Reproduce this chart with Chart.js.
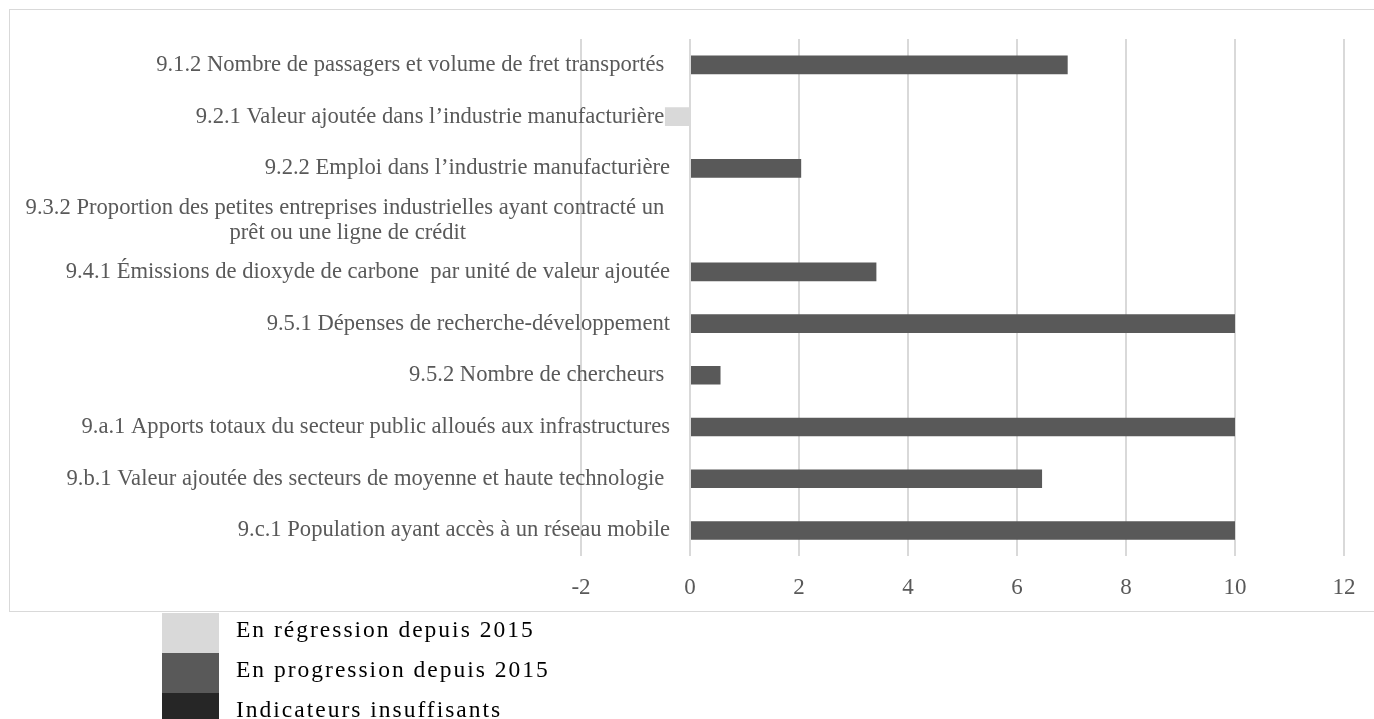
<!DOCTYPE html>
<html lang="fr">
<head>
<meta charset="utf-8">
<title>ODD 9 - évolution des indicateurs</title>
<script src="https://cdn.jsdelivr.net/npm/chart.js@4.4.1/dist/chart.umd.min.js"></script>
<style>
  html, body { margin: 0; padding: 0; background: #fff; overflow: hidden; }
  body { width: 1374px; height: 719px; position: relative; }
  #frame {
    position: absolute; left: 9px; top: 9px;
    width: 1420px; height: 601px;
    border: 1.5px solid #d9d9d9;
  }
  #wrap { position: absolute; left: 0; top: 0; width: 1374px; height: 620px; }
  #legend {
    position: absolute; left: 162px; top: 613px;
    font-family: "Liberation Serif", "Times New Roman", serif;
    font-size: 23.5px; letter-spacing: 2px; color: #000;
  }
  .item { display: flex; height: 40px; }
  .box { width: 57px; height: 40px; margin-right: 17px; }
  .item span { line-height: 32px; }
</style>
</head>
<body>
<div id="frame"></div>
<div id="wrap"><canvas id="myChart"></canvas></div>
<div id="legend"></div>

<script>
// indicateurs ODD 9 (un libellé en tableau = libellé sur deux lignes)
const indicateurs = [
  '9.1.2 Nombre de passagers et volume de fret transportés ',
  '9.2.1 Valeur ajoutée dans l\u2019industrie manufacturière ',
  '9.2.2 Emploi dans l\u2019industrie manufacturière',
  ['9.3.2 Proportion des petites entreprises industrielles ayant contracté un ', 'prêt ou une ligne de crédit'],
  '9.4.1 Émissions de dioxyde de carbone  par unité de valeur ajoutée',
  '9.5.1 Dépenses de recherche-développement',
  '9.5.2 Nombre de chercheurs ',
  '9.a.1 Apports totaux du secteur public alloués aux infrastructures',
  '9.b.1 Valeur ajoutée des secteurs de moyenne et haute technologie ',
  '9.c.1 Population ayant accès à un réseau mobile'
];

const regression  = [null, -0.46, null, null, null, null, null, null, null, null];
const progression = [6.93, null, 2.04, null, 3.42, 10, 0.56, 10, 6.46, 10];
const insuffisant = [null, null, null, 0, null, null, null, null, null, null];

const xMin = -2, xMax = 12, xStep = 2;

const gris = '#595959';
const serif = '"Liberation Serif", "Times New Roman", serif';

// libellés des catégories, dessinés par dessus la zone de tracé comme dans Excel
const categoryLabels = {
  id: 'categoryLabels',
  afterDraw(chart) {
    const ctx = chart.ctx;
    const y = chart.scales.y;
    const right = chart.chartArea.left + 89;
    ctx.save();
    ctx.font = '22.6px ' + serif;
    ctx.fillStyle = gris;
    ctx.textBaseline = 'middle';
    chart.data.labels.forEach((lab, i) => {
      const cy = y.getPixelForValue(i);
      if (Array.isArray(lab)) {
        const widest = Math.max(...lab.map(l => ctx.measureText(l).width));
        const cx = right - widest / 2;
        const lh = 25;
        ctx.textAlign = 'center';
        lab.forEach((l, k) => {
          ctx.fillText(l, cx, cy + (k - (lab.length - 1) / 2) * lh);
        });
      } else {
        ctx.textAlign = 'right';
        ctx.fillText(lab, right, cy);
      }
    });
    ctx.restore();
  }
};

const chart = new Chart(document.getElementById('myChart'), {
  type: 'bar',
  data: {
    labels: indicateurs,
    datasets: [
      { label: 'En régression depuis 2015', data: regression, backgroundColor: '#d9d9d9' },
      { label: 'En progression depuis 2015', data: progression, backgroundColor: '#595959' },
      { label: 'Indicateurs insuffisants', data: insuffisant, backgroundColor: '#262626' }
    ]
  },
  options: {
    indexAxis: 'y',
    responsive: true,
    maintainAspectRatio: false,
    animation: false,
    layout: { padding: { left: 581, right: 30, top: 39, bottom: 0 } },
    datasets: {
      bar: { categoryPercentage: 1, barPercentage: 0.36, borderWidth: 0 }
    },
    plugins: {
      legend: { display: false },
      tooltip: { enabled: false }
    },
    scales: {
      x: {
        stacked: true,
        min: xMin,
        max: xMax,
        grid: { color: '#d9d9d9', lineWidth: 2, drawTicks: false },
        border: { display: false },
        ticks: {
          stepSize: xStep,
          padding: 18,
          color: gris,
          font: { family: serif, size: 23 }
        }
      },
      y: {
        stacked: true,
        display: false
      }
    }
  },
  plugins: [categoryLabels]
});

// légende HTML, une case par série
const legend = document.getElementById('legend');
chart.data.datasets.forEach(ds => {
  const row = document.createElement('div');
  row.className = 'item';
  const box = document.createElement('div');
  box.className = 'box';
  box.style.background = ds.backgroundColor;
  const txt = document.createElement('span');
  txt.textContent = ds.label;
  row.appendChild(box);
  row.appendChild(txt);
  legend.appendChild(row);
});
</script>
</body>
</html>
